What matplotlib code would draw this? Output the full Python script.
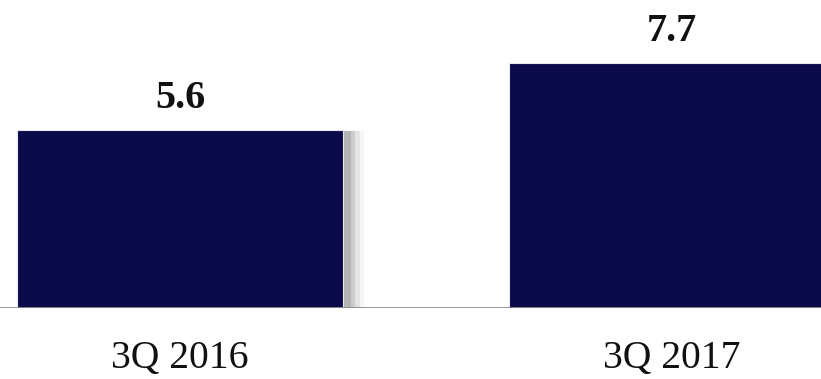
import matplotlib
matplotlib.use("Agg")
import matplotlib.pyplot as plt
import matplotlib.patheffects as pe

categories = ["3Q 2016", "3Q 2017"]
values = [5.6, 7.7]

bar_color = "#0b0a4b"
positions = [0, 1]

fig = plt.figure(figsize=(8.21, 3.79), dpi=100)
ax = fig.add_axes([0, 71 / 379, 1, 308 / 379])

# soft grey shadow to the right of each bar
shadow = [pe.SimplePatchShadow(offset=(d, -1), shadow_rgbFace="#888888", alpha=a)
          for d, a in [(15, 0.08), (12, 0.15), (9, 0.25), (6, 0.35)]]
bars = ax.bar(positions, values, width=0.6626, color=bar_color,
              edgecolor="#e8e8ee", linewidth=0.8, zorder=2)
for b in bars:
    b.set_path_effects(shadow + [pe.Normal()])

for x, v in zip(positions, values):
    ax.text(x, v + 0.69, f"{v:.1f}", ha="center", va="baseline",
            fontsize=29, fontweight="bold", family="Liberation Serif", color="#111111")

ax.axhline(0, color="#8c8c8c", lw=2, zorder=3)

ax.set_xlim(-180 / 492, 641 / 492)
ax.set_ylim(0, 308 / 31.8)
ax.axis("off")

for x, c in zip(positions, categories):
    ax.text(x, -1.89, c, ha="center", va="baseline", fontsize=28.5,
            family="Liberation Serif", color="#111111", clip_on=False)

fig.savefig("out.png", dpi=100)
